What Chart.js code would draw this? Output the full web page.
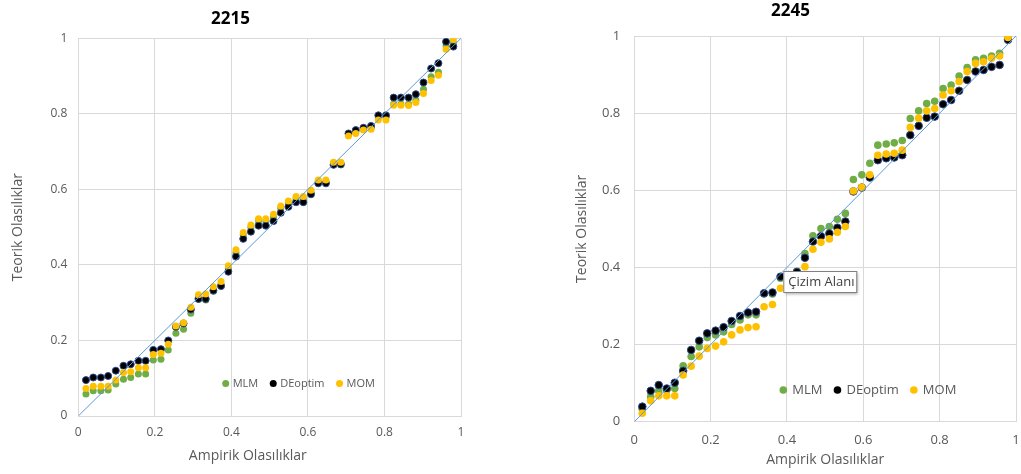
<!DOCTYPE html>
<html>
<head>
<meta charset="utf-8">
<script src="https://cdn.jsdelivr.net/npm/chart.js@4.4.1/dist/chart.umd.min.js"></script>
<style>
  html, body { margin: 0; padding: 0; background: #fff; }
  body { width: 1021px; height: 474px; position: relative; overflow: hidden; }
  .box { position: absolute; top: 0; height: 474px; }
</style>
</head>
<body>
<div class="box" style="left:0;width:480px"><canvas id="left" width="480" height="474"></canvas></div>
<div class="box" style="left:560px;width:461px"><canvas id="right" width="461" height="474"></canvas></div>
<script>
// 2215 - empirical vs theoretical probabilities
const xLeft = [0.020, 0.039, 0.059, 0.078, 0.098, 0.118, 0.137, 0.157, 0.176, 0.196,
  0.216, 0.235, 0.255, 0.275, 0.294, 0.314, 0.333, 0.353, 0.373, 0.392,
  0.412, 0.431, 0.451, 0.471, 0.490, 0.510, 0.529, 0.549, 0.569, 0.588,
  0.608, 0.627, 0.647, 0.667, 0.686, 0.706, 0.725, 0.745, 0.765, 0.784,
  0.804, 0.824, 0.843, 0.863, 0.882, 0.902, 0.922, 0.941, 0.961, 0.980];
const mlmLeft = [0.058, 0.067, 0.067, 0.069, 0.085, 0.097, 0.102, 0.111, 0.111, 0.148,
  0.150, 0.175, 0.219, 0.230, 0.272, 0.310, 0.307, 0.330, 0.348, 0.390,
  0.432, 0.480, 0.500, 0.516, 0.516, 0.528, 0.550, 0.563, 0.575, 0.575,
  0.593, 0.621, 0.621, 0.670, 0.670, 0.745, 0.752, 0.760, 0.763, 0.790,
  0.790, 0.826, 0.826, 0.826, 0.836, 0.865, 0.898, 0.910, 0.980, 0.988];
const deLeft = [0.095, 0.102, 0.102, 0.106, 0.120, 0.133, 0.137, 0.146, 0.146, 0.175,
  0.177, 0.200, 0.236, 0.245, 0.282, 0.310, 0.310, 0.332, 0.344, 0.382,
  0.422, 0.469, 0.488, 0.504, 0.504, 0.516, 0.538, 0.554, 0.566, 0.566,
  0.587, 0.616, 0.616, 0.665, 0.666, 0.748, 0.757, 0.763, 0.768, 0.796,
  0.796, 0.843, 0.843, 0.843, 0.852, 0.883, 0.920, 0.934, 0.991, 0.978];
const momLeft = [0.073, 0.079, 0.079, 0.079, 0.095, 0.115, 0.117, 0.128, 0.128, 0.163,
  0.166, 0.190, 0.238, 0.247, 0.288, 0.321, 0.323, 0.342, 0.356, 0.398,
  0.440, 0.486, 0.506, 0.522, 0.522, 0.534, 0.556, 0.569, 0.581, 0.581,
  0.598, 0.625, 0.625, 0.672, 0.672, 0.741, 0.748, 0.757, 0.759, 0.784,
  0.784, 0.823, 0.823, 0.822, 0.830, 0.854, 0.888, 0.902, 0.971, 0.997];

// 2245
const xRight = [0.021, 0.043, 0.064, 0.085, 0.106, 0.128, 0.149, 0.170, 0.191, 0.213,
  0.234, 0.255, 0.277, 0.298, 0.319, 0.340, 0.362, 0.383, 0.404, 0.426,
  0.447, 0.468, 0.489, 0.511, 0.532, 0.553, 0.574, 0.596, 0.617, 0.638,
  0.660, 0.681, 0.702, 0.723, 0.745, 0.766, 0.787, 0.809, 0.830, 0.851,
  0.872, 0.894, 0.915, 0.936, 0.957, 0.979];
const mlmRight = [0.032, 0.065, 0.080, 0.082, 0.086, 0.145, 0.169, 0.194, 0.218, 0.225,
  0.233, 0.252, 0.264, 0.277, 0.277, 0.331, 0.331, 0.372, 0.380, 0.390,
  0.436, 0.482, 0.501, 0.506, 0.525, 0.540, 0.628, 0.640, 0.670, 0.717,
  0.720, 0.723, 0.729, 0.786, 0.806, 0.825, 0.831, 0.864, 0.873, 0.896,
  0.918, 0.938, 0.942, 0.948, 0.955, 0.998];
const deRight = [0.039, 0.080, 0.095, 0.086, 0.101, 0.132, 0.186, 0.210, 0.229, 0.236,
  0.245, 0.261, 0.274, 0.283, 0.285, 0.333, 0.335, 0.376, 0.380, 0.388,
  0.425, 0.467, 0.481, 0.488, 0.503, 0.519, 0.597, 0.607, 0.633, 0.678,
  0.683, 0.685, 0.691, 0.743, 0.767, 0.788, 0.791, 0.823, 0.834, 0.858,
  0.886, 0.908, 0.912, 0.920, 0.925, 0.990];
const momRight = [0.022, 0.054, 0.067, 0.067, 0.067, 0.121, 0.144, 0.170, 0.190, 0.196,
  0.207, 0.225, 0.238, 0.244, 0.246, 0.298, 0.304, 0.346, 0.346, 0.365,
  0.402, 0.447, 0.465, 0.474, 0.491, 0.506, 0.598, 0.608, 0.640, 0.691,
  0.694, 0.696, 0.704, 0.763, 0.787, 0.806, 0.812, 0.847, 0.858, 0.882,
  0.908, 0.929, 0.933, 0.942, 0.948, 0.996];

const diagX = [0, 1];
const diagY = [0, 1];
const seriesNames = ["MLM", "DEoptim", "MOM"];

const FONT = '"Open Sans", "DejaVu Sans", sans-serif';
const GREY = "#595959";
const GRID = "#d9d9d9";

function pts(xs, ys) {
  return xs.map((x, i) => ({ x: x, y: ys[i] }));
}

// legend drawn inside the plot area, like the Excel one
function insideLegend(o) {
  return {
    id: "insideLegend",
    afterDraw(chart) {
      const { ctx, chartArea } = chart;
      let x = chartArea.left + o.left;
      const y = chartArea.bottom - o.bottom;
      ctx.save();
      ctx.font = o.size + "px " + FONT;
      ctx.textBaseline = "middle";
      chart.data.datasets.filter(d => d.inLegend).forEach(d => {
        ctx.beginPath();
        ctx.arc(x, y, o.r, 0, Math.PI * 2);
        ctx.fillStyle = d.backgroundColor;
        ctx.fill();
        ctx.fillStyle = GREY;
        ctx.fillText(d.label, x + o.gap, y);
        x += o.gap + ctx.measureText(d.label).width + 15;
      });
      ctx.restore();
    },
  };
}

// the "Çizim Alanı" hover label seen in the screenshot
const plotAreaLabel = {
  id: "plotAreaLabel",
  afterDraw(chart) {
    const { ctx, chartArea } = chart;
    const x = chartArea.left + 149, y = chartArea.top + 235, w = 73, h = 21;
    ctx.save();
    ctx.shadowColor = "rgba(0,0,0,0.35)";
    ctx.shadowBlur = 3;
    ctx.shadowOffsetX = 2;
    ctx.shadowOffsetY = 2;
    ctx.fillStyle = "#fff";
    ctx.fillRect(x, y, w, h);
    ctx.shadowColor = "transparent";
    ctx.strokeStyle = "#808080";
    ctx.lineWidth = 1;
    ctx.strokeRect(x + 0.5, y + 0.5, w, h);
    ctx.fillStyle = "#404040";
    ctx.font = "13px " + FONT;
    ctx.textBaseline = "middle";
    ctx.fillText("Çizim Alanı", x + 5, y + h / 2 + 1);
    ctx.restore();
  },
};

const fmtTick = v => String(Number(v.toFixed(1)));

function makeChart(id, cfg) {
  const r = cfg.radius;
  return new Chart(document.getElementById(id), {
    type: "scatter",
    data: {
      datasets: [
        {
          type: "line",
          data: pts(diagX, diagY),
          borderColor: "#5B9BD5",
          borderWidth: 1,
          pointRadius: 0,
          order: 0,
        },
        {
          label: seriesNames[0],
          data: pts(cfg.x, cfg.mlm),
          backgroundColor: "#70AD47",
          borderColor: "#70AD47",
          pointRadius: r,
          borderWidth: 0,
          order: 3,
          inLegend: true,
        },
        {
          label: seriesNames[1],
          data: pts(cfg.x, cfg.de),
          backgroundColor: "#000000",
          borderColor: "#2E4A8C",
          pointRadius: r,
          borderWidth: 1,
          order: 2,
          inLegend: true,
        },
        {
          label: seriesNames[2],
          data: pts(cfg.x, cfg.mom),
          backgroundColor: "#FFC000",
          borderColor: "#FFC000",
          pointRadius: r,
          borderWidth: 0,
          order: 1,
          inLegend: true,
        },
      ],
    },
    options: {
      responsive: false,
      animation: false,
      devicePixelRatio: 1,
      layout: { padding: { left: 0, right: cfg.padRight, top: 0, bottom: 0 } },
      plugins: {
        legend: { display: false },
        tooltip: { enabled: false },
        title: {
          display: true,
          text: cfg.title,
          color: "#000",
          font: { family: FONT, size: 17, weight: "bold" },
          padding: cfg.titlePad,
        },
      },
      scales: {
        x: {
          type: "linear",
          min: 0,
          max: 1,
          ticks: { stepSize: 0.2, color: GREY, padding: cfg.xTickPad, font: { family: FONT, size: cfg.tickSize }, callback: fmtTick },
          grid: { color: GRID, drawTicks: false },
          border: { color: GRID },
          title: {
            display: true,
            text: cfg.xTitle,
            color: GREY,
            font: { family: FONT, size: 14 },
            padding: { top: 0, bottom: cfg.xTitlePad },
          },
          afterFit: s => { s.height = cfg.xHeight; s.paddingLeft = 0; s.paddingRight = 0; },
        },
        y: {
          type: "linear",
          min: 0,
          max: 1,
          ticks: { stepSize: 0.2, color: GREY, padding: cfg.yTickPad, font: { family: FONT, size: cfg.tickSize }, callback: fmtTick },
          grid: { color: GRID, drawTicks: false },
          border: { color: GRID },
          title: {
            display: true,
            text: "Teorik Olasılıklar",
            color: GREY,
            font: { family: FONT, size: 14 },
            padding: { top: cfg.yTitlePad, bottom: 0 },
          },
          afterFit: s => { s.width = cfg.yWidth; s.paddingTop = 0; s.paddingBottom = 0; },
        },
      },
    },
    plugins: cfg.plugins,
  });
}

makeChart("left", {
  title: "2215",
  // trailing spaces push the title a little left of the plot centre, as in Excel
  xTitle: "Ampirik Olasılıklar" + "\u00a0".repeat(12),
  x: xLeft, mlm: mlmLeft, de: deLeft, mom: momLeft,
  radius: 3.5,
  padRight: 19,
  titlePad: { top: 8.6, bottom: 9.3 },
  xHeight: 58,
  yWidth: 78.3,
  tickSize: 12,
  xTickPad: 9,
  yTickPad: 11,
  xTitlePad: 9.6,
  yTitlePad: 9.6,
  plugins: [insideLegend({ left: 147.4, bottom: 32.5, r: 3.5, gap: 7, size: 11 })],
});

makeChart("right", {
  title: "2245",
  xTitle: "Ampirik Olasılıklar",
  x: xRight, mlm: mlmRight, de: deRight, mom: momRight,
  radius: 3.8,
  padRight: 0,
  titlePad: { top: 0.6, bottom: 15 },
  xHeight: 52.3,
  yWidth: 74.3,
  tickSize: 13,
  xTickPad: 11,
  yTickPad: 14,
  xTitlePad: 5.6,
  yTitlePad: 13.3,
  plugins: [insideLegend({ left: 149, bottom: 31.7, r: 3.8, gap: 9, size: 13 }), plotAreaLabel],
});
</script>
</body>
</html>
